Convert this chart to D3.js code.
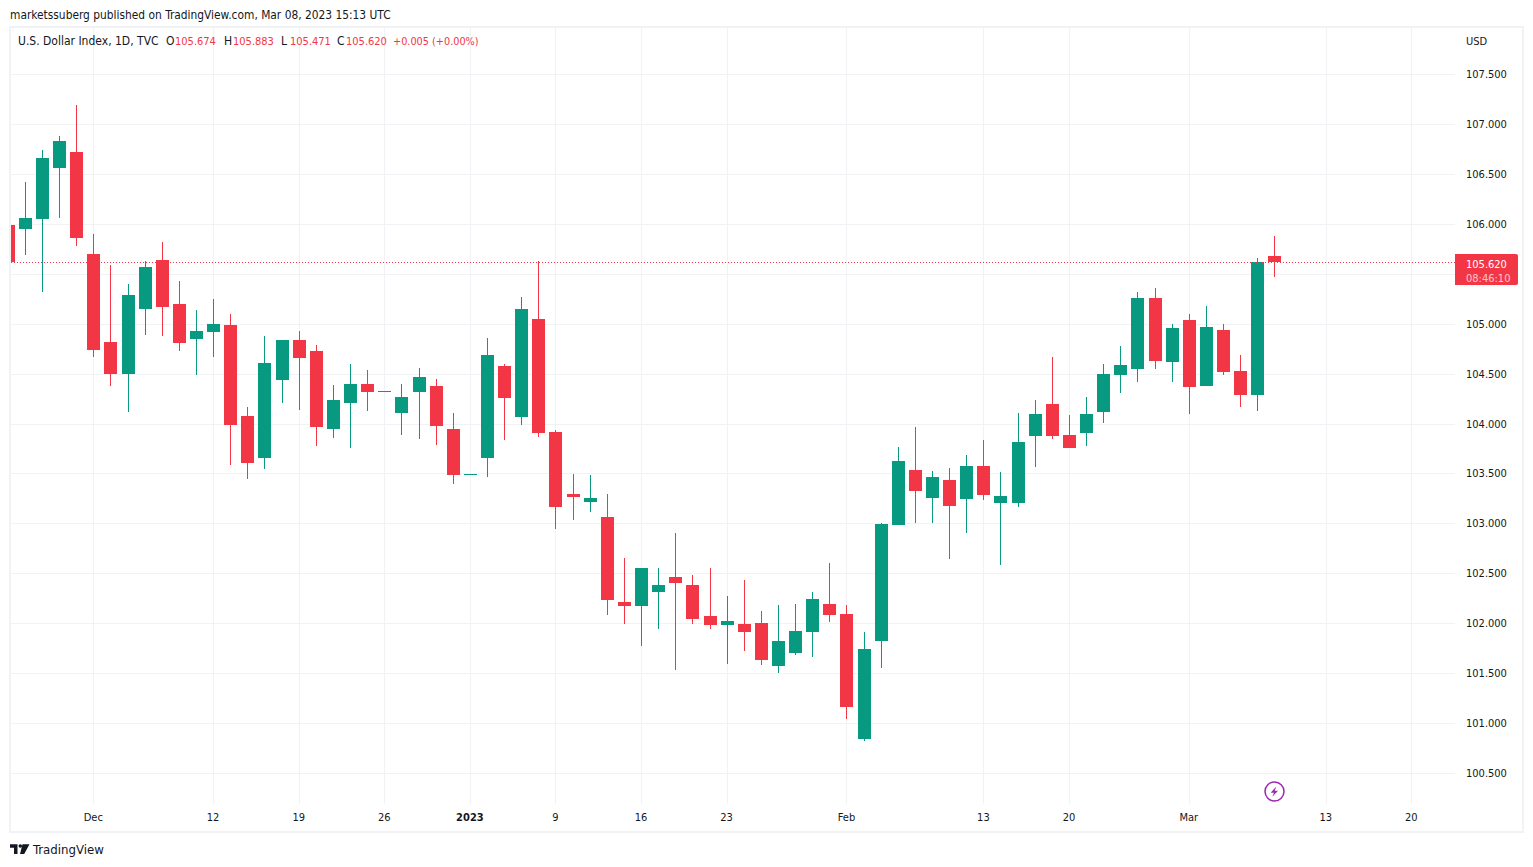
<!DOCTYPE html>
<html lang="en">
<head>
  <meta charset="UTF-8">
  <title>U.S. Dollar Index, 1D, TVC</title>
  <script src="https://d3js.org/d3.v7.min.js"></script>
  <style>
    body { margin: 0; background-color: #ffffff; }
    svg { display: block; }
    text { font-family: 'DejaVu Sans Condensed', 'DejaVu Sans', Arial, sans-serif; font-size: 11px; fill: #131722; }
    .domain { display: none; }
  </style>
</head>
<body>
  <svg id="chart" width="1533" height="867"></svg>

  <script>
    // daily candles, first one is index -5 (partly cut off by the pane edge)
    const firstIndex = -5;
    const opens = [
      105.991, 105.951, 106.051, 106.562, 106.722, 105.701, 104.819, 104.499, 105.150, 105.640,
      105.200, 104.849, 104.919, 104.989, 104.078, 103.658, 104.439, 104.839, 104.729, 103.948,
      104.208, 104.399, 104.325, 104.108, 104.318, 104.379, 103.948, 103.492, 103.658, 104.579,
      104.068, 105.050, 103.918, 103.297, 103.217, 103.067, 102.216, 102.176, 102.316, 102.466,
      102.386, 102.075, 101.985, 101.995, 102.005, 101.575, 101.705, 101.915, 102.196, 102.095,
      100.844, 101.825, 102.987, 103.537, 103.257, 103.437, 103.247, 103.577, 103.207, 103.207,
      103.878, 104.198, 103.888, 103.908, 104.118, 104.489, 104.549, 105.260, 104.619, 105.040,
      104.379, 104.939, 104.529, 104.289, 105.674
    ];
    const highs = [
      106.100, 106.421, 106.742, 106.882, 107.192, 105.901, 105.590, 105.400, 105.630, 105.821,
      105.430, 105.140, 105.250, 105.100, 104.168, 104.879, 104.839, 104.929, 104.789, 104.389,
      104.599, 104.539, 104.330, 104.399, 104.559, 104.449, 104.108, 103.497, 104.859, 104.599,
      105.270, 105.630, 103.938, 103.497, 103.487, 103.297, 102.656, 102.556, 102.556, 102.907,
      102.486, 102.556, 102.276, 102.436, 102.125, 102.186, 102.196, 102.316, 102.606, 102.186,
      101.915, 103.007, 103.768, 103.968, 103.527, 103.557, 103.688, 103.838, 103.517, 104.108,
      104.238, 104.669, 104.088, 104.268, 104.599, 104.779, 105.320, 105.360, 104.999, 105.100,
      105.180, 104.999, 104.689, 105.660, 105.883
    ];
    const lows = [
      105.500, 105.690, 105.320, 106.061, 105.781, 104.669, 104.379, 104.118, 104.889, 104.879,
      104.729, 104.489, 104.669, 103.587, 103.447, 103.547, 104.208, 104.138, 103.778, 103.858,
      103.758, 104.128, 104.325, 103.888, 103.848, 103.788, 103.397, 103.492, 103.467, 103.838,
      103.988, 103.868, 102.947, 103.037, 103.117, 102.085, 101.995, 101.775, 101.945, 101.535,
      101.995, 101.945, 101.595, 101.725, 101.585, 101.505, 101.685, 101.665, 102.015, 101.044,
      100.824, 101.555, 102.987, 103.007, 103.007, 102.646, 102.907, 103.237, 102.586, 103.167,
      103.567, 103.848, 103.758, 103.778, 104.008, 104.308, 104.419, 104.549, 104.419, 104.098,
      104.379, 104.489, 104.168, 104.128, 105.471
    ];
    const closes = [
      105.623, 106.061, 106.662, 106.832, 105.861, 104.732, 104.499, 105.290, 105.570, 105.170,
      104.809, 104.929, 104.999, 103.988, 103.608, 104.609, 104.839, 104.659, 103.968, 104.238,
      104.399, 104.319, 104.330, 104.268, 104.469, 103.978, 103.487, 103.497, 104.689, 104.258,
      105.150, 103.908, 103.167, 103.267, 103.257, 102.236, 102.176, 102.556, 102.386, 102.406,
      102.045, 101.985, 102.025, 101.915, 101.635, 101.825, 101.925, 102.246, 102.085, 101.164,
      101.745, 102.997, 103.628, 103.327, 103.467, 103.177, 103.577, 103.287, 103.277, 103.818,
      104.098, 103.878, 103.758, 104.098, 104.499, 104.589, 105.260, 104.629, 104.959, 104.369,
      104.969, 104.519, 104.289, 105.615, 105.620
    ];

    const priceTicks = [100.5, 101, 101.5, 102, 102.5, 103, 103.5, 104, 104.5, 105, 105.5, 106, 106.5, 107, 107.5];
    const timeTickIndex = [0, 7, 12, 17, 22, 27, 32, 37, 44, 52, 57, 64, 72, 77];
    const timeTickLabels = ["Dec", "12", "19", "26", "2023", "9", "16", "23", "Feb", "13", "20", "Mar", "13", "20"];

    const lastPrice = 105.620;
    const countdown = "08:46:10";
    const legendValues = [["O", "105.674", 166], ["H", "105.883", 224], ["L", "105.471", 281], ["C", "105.620", 337]];

    const green = "#089981", red = "#f23645", gridColor = "#f1f2f5";

    const svg = d3.select("#chart");
    const x = d3.scaleLinear().domain([0, 77]).range([93.3, 1411.3]);
    const y = d3.scaleLinear().domain([100.5, 107.5]).range([772.9, 74.2]);
    const px = v => Math.round(x(v));
    const py = v => Math.round(y(v));

    svg.append("defs").append("clipPath").attr("id", "pane")
      .append("rect").attr("x", 11).attr("y", 28).attr("width", 1444).attr("height", 776);

    // grid
    svg.append("g").selectAll("line").data(timeTickIndex).enter().append("line")
      .attr("x1", d => px(d) + 0.5).attr("x2", d => px(d) + 0.5)
      .attr("y1", 28).attr("y2", 804)
      .attr("stroke", gridColor);
    svg.append("g").selectAll("line").data(priceTicks).enter().append("line")
      .attr("x1", 11).attr("x2", 1455)
      .attr("y1", d => py(d) + 0.5).attr("y2", d => py(d) + 0.5)
      .attr("stroke", gridColor);

    // candles
    const candles = opens.map((o, i) => ({ i: i + firstIndex, o, h: highs[i], l: lows[i], c: closes[i] }));
    const candleColor = d => d.c >= d.o ? green : red;
    const chart = svg.append("g").attr("clip-path", "url(#pane)");

    chart.append("g").selectAll("rect").data(candles).enter().append("rect")
      .attr("x", d => px(d.i))
      .attr("width", 1)
      .attr("y", d => py(d.h))
      .attr("height", d => Math.max(1, py(d.l) - py(d.h)))
      .attr("fill", candleColor);

    chart.append("g").selectAll("rect").data(candles).enter().append("rect")
      .attr("x", d => px(d.i) - 6)
      .attr("width", 13)
      .attr("y", d => py(Math.max(d.o, d.c)))
      .attr("height", d => Math.max(1, py(Math.min(d.o, d.c)) - py(Math.max(d.o, d.c))))
      .attr("fill", candleColor);

    // last price line
    svg.append("line")
      .attr("x1", 11).attr("x2", 1455)
      .attr("y1", py(lastPrice) + 0.5).attr("y2", py(lastPrice) + 0.5)
      .attr("stroke", red).attr("stroke-dasharray", "1 2");

    // axes, the 105.500 label sits behind the last price tag so it is left out
    const yAxis = d3.axisRight(y).tickValues(priceTicks.filter(d => d !== 105.5)).tickSize(0).tickPadding(11)
      .tickFormat(d3.format(".3f"));
    svg.append("g").attr("transform", "translate(1455,0)").call(yAxis);

    const xAxis = d3.axisBottom(x).tickValues(timeTickIndex).tickSize(0).tickPadding(0)
      .tickFormat((d, i) => timeTickLabels[i]);
    const xg = svg.append("g").attr("transform", "translate(-0.5,813)").call(xAxis);
    xg.selectAll("text").style("font-weight", (d, i) => timeTickLabels[i] === "2023" ? "bold" : null);
    svg.selectAll(".tick line").remove();
    svg.selectAll("g text").attr("font-size", null).attr("font-family", null);

    // outer frame
    svg.append("rect")
      .attr("x", 10).attr("y", 27).attr("width", 1513).attr("height", 805)
      .attr("fill", "none").attr("stroke", gridColor).attr("stroke-width", 2);

    // header and legend
    svg.append("text").attr("x", 10).attr("y", 19).style("font-size", "11.85px")
      .text("marketssuberg published on TradingView.com, Mar 08, 2023 15:13 UTC");
    svg.append("text").attr("x", 18).attr("y", 45).style("font-size", "12px").text("U.S. Dollar Index, 1D, TVC");
    legendValues.forEach(([k, v, lx]) => {
      svg.append("text").attr("x", lx).attr("y", 45).style("font-size", "12px").text(k);
      svg.append("text").attr("x", lx + 9).attr("y", 45).style("fill", red).text(v);
    });
    svg.append("text").attr("x", 393).attr("y", 45).style("fill", red).style("font-size", "10.8px").text("+0.005 (+0.00%)");
    svg.append("text").attr("x", 1466).attr("y", 45).text("USD");

    // last price label
    svg.append("path")
      .attr("d", "M1455,254H1516a2,2 0 0 1 2,2V283a2,2 0 0 1 -2,2H1455Z")
      .attr("fill", red);
    svg.append("text").attr("x", 1466).attr("y", 268).style("fill", "#ffffff").text(d3.format(".3f")(lastPrice));
    svg.append("text").attr("x", 1466).attr("y", 282).style("fill", "#ffffff").style("opacity", 0.7).text(countdown);

    // purple bolt marker
    svg.append("circle").attr("cx", 1274.5).attr("cy", 791.5).attr("r", 9.5)
      .attr("fill", "#ffffff").attr("stroke", "#9c27b0").attr("stroke-width", 1.5);
    svg.append("path")
      .attr("d", "M1276.2,786.5L1270.7,792.7H1274L1272.3,796.7L1278,790.7H1274.7Z")
      .attr("fill", "#9c27b0");

    // TradingView logo
    svg.append("path")
      .attr("d", "M10,844.3H17.5V854H14V847.7H10Z M22.5,844.3H29.5L24.2,854H20Z")
      .attr("fill", "#131722");
    svg.append("circle").attr("cx", 20.3).attr("cy", 846).attr("r", 1.8).attr("fill", "#131722");
    svg.append("text").attr("x", 33).attr("y", 854).style("font-size", "13.1px").text("TradingView");
  </script>
</body>
</html>
